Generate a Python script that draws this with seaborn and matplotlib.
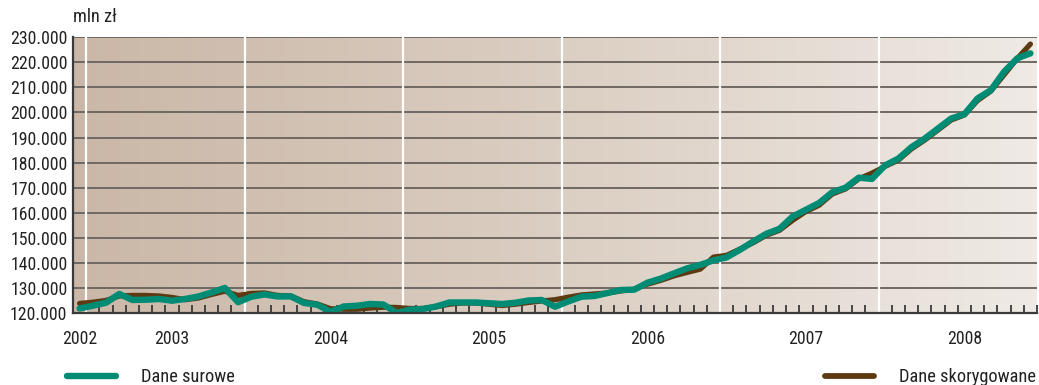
import numpy as np
import matplotlib
matplotlib.use("Agg")
import matplotlib.pyplot as plt
import seaborn as sns
from matplotlib.lines import Line2D
from matplotlib.colors import LinearSegmentedColormap
from matplotlib import font_manager as fm
from matplotlib.textpath import TextPath

# ---------------- data ----------------
months = list(range(73))
raw = [121800, 122900, 124100, 127600, 125200, 125300, 125600, 124900, 125600, 126600,
       128200, 130000, 124300, 126500, 127400, 126600, 126600, 124000, 123300, 120500,
       122600, 122900, 123600, 123400, 120000, 121300, 121600, 122600, 124200, 124200,
       124200, 123900, 123600, 124100, 125000, 125200, 122500, 124600, 126500, 126800,
       128000, 129200, 129300, 132100, 133700, 135800, 137800, 139200, 141000, 142200,
       145200, 148500, 151600, 153600, 158500, 161200, 163900, 168200, 170000, 174000,
       173500, 178900, 181600, 186200, 189600, 193600, 197600, 199300, 205600, 208900,
       216200, 221600, 223600]
adjusted = [123800, 124300, 125000, 126800, 127000, 127000, 126800, 126200, 125300, 126000,
            127400, 128700, 127000, 127800, 128000, 127000, 126800, 124500, 123600, 121700,
            121500, 121500, 122000, 122300, 122200, 121800, 121800, 122500, 123500, 124000,
            124000, 123500, 123000, 123500, 124200, 124800, 125300, 126300, 127200, 127600,
            128000, 128800, 129500, 131500, 133000, 134800, 136200, 137500, 142300, 143000,
            145500, 148000, 151000, 153000, 157000, 160500, 163000, 167500, 169500, 173500,
            175800, 178500, 181000, 185500, 189000, 193000, 197000, 199000, 204800, 208500,
            215000, 221500, 227300]
year_labels = ["2002", "2003", "2004", "2005", "2006", "2007", "2008"]
year_label_pos = [0, 7, 19, 31, 43, 55, 67]
year_starts = [0.5, 12.5, 24.5, 36.5, 48.5, 60.5]
y_ticks = list(range(120000, 230001, 10000))
series_names = ["Dane surowe", "Dane skorygowane"]
unit_label = "mln zł"

GREEN = "#008c74"
BROWN = "#5e3a12"
TEXT = "#222222"
AXIS = "#3a3a3a"

sns.set_theme(style="white")
plt.rcParams["font.family"] = ["Liberation Sans", "DejaVu Sans"]


# pick a condensed/narrow regular font if one is installed
def find_condensed():
    best = None
    order = ["liberationsansnarrow", "notosans", "opensans", "roboto", "lato",
             "dejavusanscondensed"]
    for f in fm.fontManager.ttflist:
        low = f.fname.lower()
        base = low.rsplit("/", 1)[-1].replace("-", "").replace("_", "")
        if not ("condensed" in base or "narrow" in base):
            continue
        if "extra" in base or "ultra" in base or "semi" in base:
            continue
        if f.style != "normal":
            continue
        if any(k in base for k in ["bold", "italic", "oblique", "light", "thin",
                                   "black", "medium"]):
            continue
        rank = len(order)
        for i, key in enumerate(order):
            if base.startswith(key):
                rank = i
                break
        if best is None or rank < best[0]:
            best = (rank, f.fname)
    return best[1] if best else None


cond = find_condensed()
if cond:
    FP = fm.FontProperties(fname=cond)
else:
    FP = fm.FontProperties(family=["Liberation Sans", "DejaVu Sans"])


def fit_size(s, target_w, target_h):
    ext = TextPath((0, 0), s, size=100, prop=FP).get_extents()
    px = 100 / 72.0
    sw = target_w / (ext.width / 100 * px)
    sh = target_h / (ext.height / 100 * px)
    return min(sw, sh)


FS_Y = fit_size("230.000", 61, 13)
FS_X = fit_size("2003", 36, 13)
FS_L = fit_size("Dane skorygowane", 135, 19)
FS_U = fit_size("mln zł", 42, 15)

W, H = 1039, 385
fig = plt.figure(figsize=(W / 100, H / 100), dpi=100)
fig.patch.set_facecolor("white")
ax = fig.add_axes([73 / W, 1 - 313 / H, (1037 - 73) / W, (313 - 37.3) / H])

# background gradient
cmap = LinearSegmentedColormap.from_list("bg", ["#cab7a7", "#dbcec2", "#efeae5"])
grad = np.linspace(0, 1, 256).reshape(1, -1)
ax.imshow(grad, extent=[-0.5, 72.5, 120000, 230000], aspect="auto", cmap=cmap,
          zorder=0, interpolation="bilinear")

# grid lines
for yv in y_ticks[1:]:
    ax.axhline(yv, color="#6f6863", lw=1.4, zorder=1)
for xv in year_starts:
    ax.axvline(xv, color="white", lw=1.6, zorder=1)

# series
sns.lineplot(x=months, y=adjusted, ax=ax, color=BROWN, lw=3.8, zorder=3)
sns.lineplot(x=months, y=raw, ax=ax, color=GREEN, lw=4.6, zorder=4)

ax.set_xlim(-0.5, 72.5)
ax.set_ylim(120000, 230000)

ax.set_yticks(y_ticks)
ax.set_yticklabels([f"{v:,}".replace(",", ".") for v in y_ticks])
ax.set_xticks(year_label_pos)
ax.set_xticklabels(year_labels)
ax.set_xticks(np.arange(-0.5, 73, 1), minor=True)
ax.tick_params(axis="x", which="major", length=0, pad=12, labelcolor=TEXT)
ax.tick_params(axis="x", which="minor", bottom=True, direction="in", length=6,
               width=1.3, color=AXIS)
ax.tick_params(axis="y", length=0, pad=4, labelcolor=TEXT)
for lab in ax.get_yticklabels():
    lab.set_fontproperties(FP)
    lab.set_fontsize(FS_Y)
for lab in ax.get_xticklabels():
    lab.set_fontproperties(FP)
    lab.set_fontsize(FS_X)
ax.set_xlabel("")
ax.set_ylabel("")

for s in ["top", "right"]:
    ax.spines[s].set_visible(False)
for s in ["left", "bottom"]:
    ax.spines[s].set_color(AXIS)
    ax.spines[s].set_linewidth(1.6)
    ax.spines[s].set_zorder(5)

fig.text(73 / W, 1 - 17 / H, unit_label, ha="left", va="center",
         fontproperties=FP, fontsize=FS_U, color=TEXT)

legend_prop = FP.copy()
legend_prop.set_size(FS_L)
h_raw = Line2D([], [], color=GREEN, lw=4.6, solid_capstyle="round")
h_adj = Line2D([], [], color=BROWN, lw=4.2, solid_capstyle="round")
hl = 49 / (FS_L * 100 / 72)
htp = 25 / (FS_L * 100 / 72)
fig.legend([h_raw], [series_names[0]], loc="center left",
           bbox_to_anchor=(67 / W, 1 - 377 / H), frameon=False, borderpad=0,
           borderaxespad=0, handlelength=hl, handletextpad=htp, prop=legend_prop,
           labelcolor=TEXT)
fig.legend([h_adj], [series_names[1]], loc="center left",
           bbox_to_anchor=(825 / W, 1 - 377 / H), frameon=False, borderpad=0,
           borderaxespad=0, handlelength=hl, handletextpad=htp, prop=legend_prop,
           labelcolor=TEXT)

fig.savefig("out.png", dpi=100)
